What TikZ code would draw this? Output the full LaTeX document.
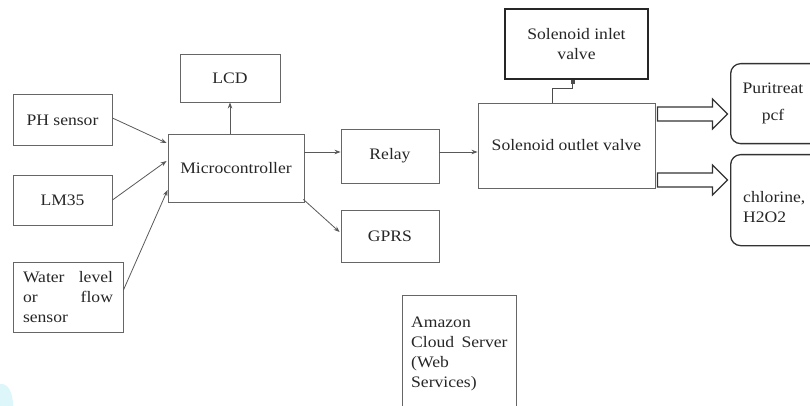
\documentclass[tikz,border=0pt]{standalone}
\usepackage{fontspec}
\setmainfont[FakeStretch=1.1]{Liberation Serif}
\usetikzlibrary{arrows.meta,calc}
\definecolor{patch}{HTML}{DDF6FA}
\begin{document}
\begin{tikzpicture}[x=1pt,y=-1pt,
  box/.style={draw=black!60, line width=0.9pt, rectangle, inner sep=0pt,
              font=\fontsize{16}{20}\selectfont, text=black!85},
  lbl/.style={inner sep=0pt, font=\fontsize{16}{20}\selectfont, text=black!85},
  conn/.style={draw=black!65, line width=0.8pt, -{Stealth[length=6pt,width=4.5pt]}},
  fat/.style={draw=black!80, line width=1.2pt, fill=white, line join=miter},
  rbox/.style={draw=black!80, line width=1.3pt, rounded corners=10pt, inner sep=0pt},
]
\useasboundingbox (0,0) rectangle (810,406);
\clip (0,0) rectangle (810,406);

% scan artefact
\fill[patch] (0,384) .. controls (8,383) and (13,392) .. (13,406) -- (0,406) -- cycle;

% input sensors
\node[box, minimum width=99pt, minimum height=51pt] (ph) at (62.5,120) {PH sensor};
\node[box, minimum width=99pt, minimum height=50pt] (lm) at (62.5,200) {LM35};
\node[box, minimum width=110pt, minimum height=70pt, text width=90pt, align=left] (wl) at (68,297)
  {Water\hfill level\\or\hfill flow\\sensor};

% controller and outputs
\node[box, minimum width=136pt, minimum height=68pt] (mc) at (236,168) {Microcontroller};
\node[box, minimum width=100pt, minimum height=48pt] (lcd) at (230,78) {LCD};
\node[box, minimum width=98pt, minimum height=54pt] (relay) at (390,156) {Relay};
\node[box, minimum width=98pt, minimum height=52pt] (gprs) at (390,236) {GPRS};
\node[box, minimum width=177pt, minimum height=85pt] (outl) at (566.5,145.5) {Solenoid outlet valve};
\node[box, draw=black!85, line width=1.8pt, minimum width=143pt, minimum height=70pt, align=center] (inl) at (576.5,44)
  {Solenoid inlet\\valve};

% cloud server (box cut by the bottom edge)
\node[box, minimum width=114pt, minimum height=125pt, anchor=north west] (aws) at (402,295) {};
\node[lbl, anchor=north west, align=left] (awst) at (411,317) {Amazon\\Cloud\hspace{3pt} Server\\(Web\\Services)};

% chemical boxes (cut by the right edge)
\node[rbox, minimum width=100pt, minimum height=80pt, anchor=north west] (pur) at (730,63) {};
\node[rbox, minimum width=100pt, minimum height=91pt, anchor=north west] (chl) at (730,154) {};
\node[lbl, align=center] (purt) at (773,103) {Puritreat\\[7pt]pcf};
\node[lbl, anchor=west, align=left] (chlt) at (743,207) {chlorine,\\H2O2};

% connectors
\draw[conn] ($(ph.east)+(0,-2)$) -- ($(mc.west)+(-1,-25)$);
\draw[conn] (lm.east) -- ($(mc.west)+(-1,-7)$);
\draw[conn] ($(wl.east)+(0,-7)$) -- ($(mc.west)+(0,22)$);
\draw[conn] (mc.north -| lcd.south) -- (lcd.south);
\draw[conn] ($(mc.east)+(0,-16)$) -- ($(relay.west)+(0,-4)$);
\draw[conn] ($(relay.east)+(0,-4)$) -- ($(outl.west)+(0,6.5)$);
\draw[conn] ($(mc.south east)+(-1,-3)$) -- ($(gprs.west)+(-1,-4)$);
\draw[draw=black!70, line width=0.8pt, {Square[length=4pt,width=4pt]}-]
  ($(inl.south)+(-4,0)$) -- ++(0,9) -| ($(outl.north)+(-14,0)$);

% hollow arrows
\draw[fat] ($(outl.east)+(2,-38.5)$) -- ++(55,0) -- ++(0,-8) -- ++(15,15) -- ++(-15,15) -- ++(0,-8) -- ++(-55,0) -- cycle;
\draw[fat] ($(outl.east)+(2,27.5)$) -- ++(55,0) -- ++(0,-8) -- ++(15,15) -- ++(-15,15) -- ++(0,-8) -- ++(-55,0) -- cycle;
\end{tikzpicture}
\end{document}
